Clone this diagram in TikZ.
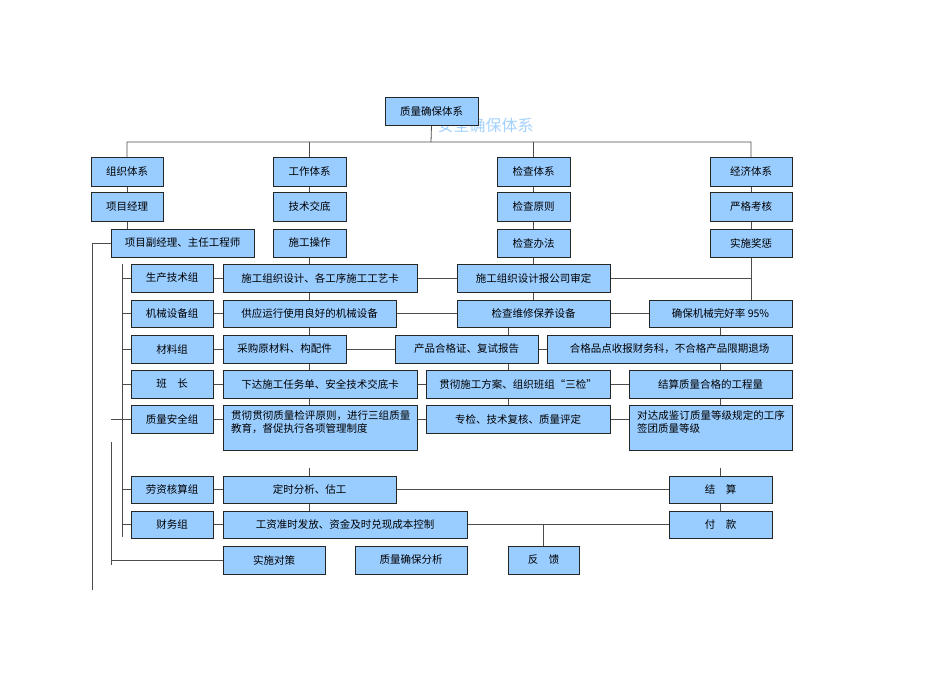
\documentclass[tikz,border=0pt]{standalone}
\usepackage{fontspec}
\newfontfamily\cjk{Noto Sans CJK SC}
\XeTeXlinebreaklocale "zh"
\XeTeXlinebreakskip = 0pt plus 1pt
\pgfdeclarelayer{bg}\pgfsetlayers{bg,main}
\tikzset{
  bx/.style={draw=black!85,fill=boxblue,line width=0.8pt,inner sep=0pt,outer sep=0pt,font=\cjk\fontsize{10.5}{12}\selectfont},
  ln/.style={draw=black!70,line width=0.8pt},
  txl/.style={anchor=north west,align=left,inner sep=0pt,font=\cjk\fontsize{10.5}{13}\selectfont}
}
\definecolor{boxblue}{HTML}{99CCFF}
\newcommand\bx[6]{\node[bx,minimum width={(#4-#2)*1pt},minimum height={(#5-#3)*1pt}] (#1) at ({(#2+#4)/2},{(#3+#5)/2}) {#6};}
\newcommand\bxl[6]{\node[bx,minimum width={(#4-#2)*1pt},minimum height={(#5-#3)*1pt}] (#1) at ({(#2+#4)/2},{(#3+#5)/2}) {};
\pgfmathsetlengthmacro\tw{(#4-#2-14)*1pt}%
\node[txl,text width=\tw] at ([xshift=8pt,yshift=-5pt]#1.north west) {#6};}
\begin{document}
\begin{tikzpicture}[x=1pt,y=-1pt]
\useasboundingbox (0,0) rectangle (950,672);
\node[font=\cjk\fontsize{16}{18}\selectfont,text=boxblue!90!white,anchor=west] (wm) at (434,125) {安全确保体系};
\bx{top}{385}{97}{478}{125}{质量确保体系}
\bx{org}{91}{157}{163}{186}{组织体系}
\bx{work}{273}{157}{346}{186}{工作体系}
\bx{chk}{497}{157}{570}{186}{检查体系}
\bx{eco}{710}{157}{792}{186}{经济体系}
\bx{o2}{91}{192}{163}{221}{项目经理}
\bx{w2}{273}{192}{346}{221}{技术交底}
\bx{c2}{497}{192}{570}{221}{检查原则}
\bx{e2}{710}{192}{792}{221}{严格考核}
\bx{vice}{111}{229}{254}{257}{项目副经理、主任工程师}
\bx{w3}{273}{229}{346}{257}{施工操作}
\bx{c3}{497}{229}{570}{257}{检查办法}
\bx{e3}{710}{229}{792}{257}{实施奖惩}
\bx{g1}{131}{264}{213}{292}{生产技术组}
\bx{g2}{131}{300}{213}{327}{机械设备组}
\bx{g3}{131}{335}{213}{363}{材料组}
\bx{g4}{131}{370}{213}{398}{班\quad 长}
\bx{g5}{131}{405}{213}{433}{质量安全组}
\bx{g6}{131}{476}{213}{503}{劳资核算组}
\bx{g7}{131}{511}{213}{538}{财务组}
\bx{m1}{223}{264}{417}{292}{施工组织设计、各工序施工工艺卡}
\bx{m2}{223}{300}{396}{327}{供应运行使用良好的机械设备}
\bx{m3}{223}{335}{346}{363}{采购原材料、构配件}
\bx{m4}{223}{370}{417}{398}{下达施工任务单、安全技术交底卡}
\bxl{m5}{223}{405}{417}{450}{贯彻贯彻质量检评原则，进行三组质量教育，督促执行各项管理制度}
\bx{m6}{223}{476}{396}{503}{定时分析、估工}
\bx{m7}{223}{511}{467}{538}{工资准时发放、资金及时兑现成本控制}
\bx{x1}{457}{264}{610}{292}{施工组织设计报公司审定}
\bx{x2}{457}{300}{610}{327}{检查维修保养设备}
\bx{x3}{395}{335}{538}{363}{产品合格证、复试报告}
\bx{x4}{426}{370}{610}{398}{贯彻施工方案、组织班组“三检”}
\bx{x5}{426}{405}{610}{433}{专检、技术复核、质量评定}
\bx{y1}{649}{300}{792}{327}{确保机械完好率 95\%}
\bx{y2}{547}{335}{792}{363}{合格品点收报财务科，不合格产品限期退场}
\bx{y3}{629}{370}{792}{398}{结算质量合格的工程量}
\bxl{y4}{629}{405}{792}{450}{对达成鉴订质量等级规定的工序签团质量等级}
\bx{js}{669}{476}{772}{503}{结\quad 算}
\bx{fk2}{669}{511}{772}{538}{付\quad 款}
\bx{f1}{223}{546}{325}{574}{实施对策}
\bx{f2}{355}{546}{467}{574}{质量确保分析}
\bx{f3}{508}{546}{579}{574}{反\quad 馈}
\coordinate (bus) at (431,142);
\coordinate (lbot) at (92,590);
\coordinate (b1) at (122,264);
\coordinate (b2) at (122,537);
\coordinate (c1) at (111,442);
\coordinate (c2) at (111,565);
\coordinate (pa) at (508,327);
\coordinate (qa) at (720,327);
\coordinate (ws) at (309,468);
\coordinate (es) at (720,468);
\begin{pgfonlayer}{bg}
\path[ln] (top.south) -- (bus) (org.north) |- (bus) (work.north) |- (bus) (chk.north) |- (bus) (eco.north) |- (bus);
\path[ln] (org.south) -- (o2.north) (o2.south) -- (o2.south |- vice.north);
\path[ln] (work.south) -- (w2.north) (w3.south) -- (w3.south |- m5.north);
\path[ln] (chk.south) -- (c3.north) (c3.south) -- (c3.south |- x2.north);
\path[ln] (pa) -- (pa |- x5.north);
\path[ln] (eco.south) -- (e3.north) (e3.south) -- (e3.south |- y1.north);
\path[ln] (qa) -- (qa |- y4.north);
\path[ln] (ws) -- (ws |- m7.north) (es) -- (es |- fk2.north);
\path[ln] (vice.west) -| (lbot);
\path[ln] (b1) -- (b2) (c1) -- (c2) (f1.west) -- (f1.west -| c1);
\foreach \g in {g1,g2,g3,g4,g6,g7} {\path[ln] (\g.west) -- (\g.west -| b1) (\g.east) -- (\g.east -| m1.west);}
\path[ln] (g5.west) -- (g5.west -| c1) (g5.east) -- (g5.east -| m1.west);
\path[ln] (m1.east) -- (m1.east -| x1.west) (x1.east) -- (x1.east -| e3.south);
\path[ln] (m2.east) -- (m2.east -| x2.west) (x2.east) -- (x2.east -| y1.west);
\path[ln] (m3.east) -- (m3.east -| x3.west) (x3.east) -- (x3.east -| y2.west);
\path[ln] (m4.east) -- (m4.east -| x4.west) (x4.east) -- (x4.east -| y3.west);
\path[ln] (x5.east) -- (x5.east -| y4.west) ([yshift=-14pt]m5.north east) -- ([yshift=-14pt]m5.north east -| x5.west);
\path[ln] (m6.east) -- (m6.east -| js.west) (m7.east) -- (m7.east -| fk2.west) (f3.north) -- (f3.north |- m7.east);
\end{pgfonlayer}
\end{tikzpicture}
\end{document}
